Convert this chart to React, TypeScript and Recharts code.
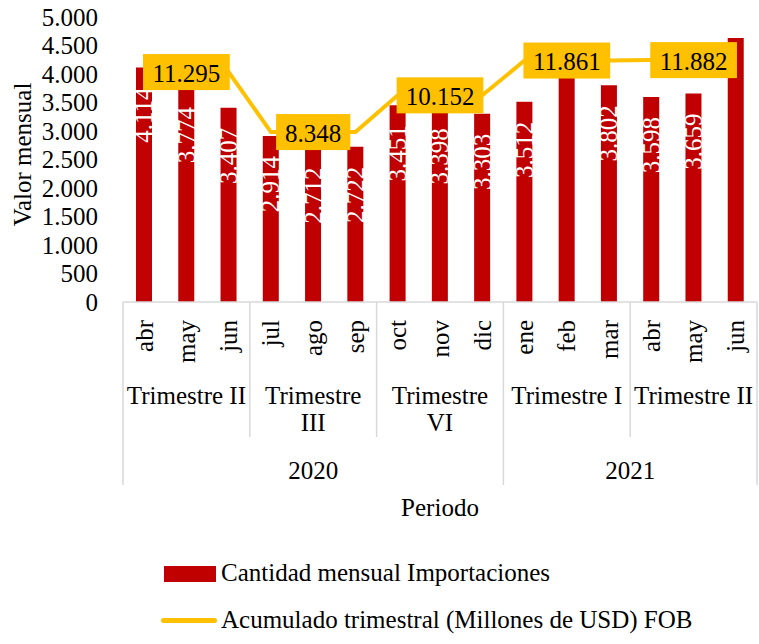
import React from 'react';
import { ComposedChart, Bar, Line, XAxis, YAxis, LabelList, Legend } from 'recharts';

const months = ['abr', 'may', 'jun', 'jul', 'ago', 'sep', 'oct', 'nov', 'dic', 'ene', 'feb', 'mar', 'abr', 'may', 'jun'];
const monthlyImports = [4114, 3774, 3407, 2914, 2712, 2722, 3451, 3398, 3303, 3512, 4250, 3802, 3598, 3659, 4630];
const showBarLabel = [true, true, true, true, true, true, true, true, true, true, false, true, true, true, false];
const quarterLabels = [['Trimestre II'], ['Trimestre', 'III'], ['Trimestre', 'VI'], ['Trimestre I'], ['Trimestre II']];
const quarterTotals = [11295, 8348, 10152, 11861, 11882];
const years = ['2020', '2021'];
const yTicks = [0, 500, 1000, 1500, 2000, 2500, 3000, 3500, 4000, 4500, 5000];

const W = 759;
const H = 644;
const FONT = '"Liberation Serif", serif';
const FS = 25;
const RED = '#C00000';
const GOLD = '#FFC000';
const GRID = '#D9D9D9';
const M = { top: 17, right: 2, left: 0, bottom: 0 };
const Y_W = 123;
const PLOT_W = W - M.left - M.right - Y_W;
const BAND = PLOT_W / months.length;

const fmt = (v: number) => String(v).replace(/\B(?=(\d{3})+(?!\d))/g, '.');

const data = months.map((m, i) => ({
  month: m,
  imports: monthlyImports[i],
  quarter: quarterTotals[Math.floor(i / 3)],
}));

const T = (p: any) => (
  <text textAnchor="middle" dominantBaseline="central" fontFamily={FONT} fontSize={FS} fill="#000" {...p} />
);

const MonthTick = (props: any) => {
  const { x, payload } = props;
  const i = payload.index;
  const axisY = props.y - 8;
  const els: any[] = [];
  const my = axisY + 18;
  els.push(
    <T key="m" x={x} y={my} transform={`rotate(-90 ${x} ${my})`} textAnchor="end">
      {payload.value}
    </T>
  );
  if (i % 3 === 0) {
    const lx = x - BAND / 2;
    const yearEdge = i === 0 || i === 9;
    els.push(<line key="s" x1={lx} x2={lx} y1={axisY} y2={axisY + (yearEdge ? 183 : 135)} stroke={GRID} strokeWidth={1.5} />);
  }
  if (i === months.length - 1) {
    const rx = x + BAND / 2;
    els.push(<line key="e" x1={rx} x2={rx} y1={axisY} y2={axisY + 183} stroke={GRID} strokeWidth={1.5} />);
  }
  if (i % 3 === 1) {
    const q = quarterLabels[Math.floor(i / 3)];
    q.forEach((t, k) => {
      els.push(
        <T key={'q' + k} x={x} y={axisY + 93 + k * 27}>
          {t}
        </T>
      );
    });
  }
  if (i === 4) {
    els.push(<T key="y0" x={x} y={axisY + 168}>{years[0]}</T>);
  }
  if (i === 11) {
    els.push(<T key="y1" x={x + BAND / 2} y={axisY + 168}>{years[1]}</T>);
  }
  if (i === 7) {
    els.push(<T key="p" x={x} y={axisY + 205}>Periodo</T>);
  }
  return <g>{els}</g>;
};

const BarValueLabel = (props: any) => {
  const { x, y, width, value, index } = props;
  if (!showBarLabel[index]) return null;
  const cx = x + width / 2;
  const ty = y + 20;
  return (
    <T x={cx} y={ty} transform={`rotate(-90 ${cx} ${ty})`} textAnchor="end" fill="#FFFFFF">
      {fmt(value)}
    </T>
  );
};

const QuarterBox = (props: any) => {
  const { x, y, value, index } = props;
  if (index % 3 !== 1) return null;
  const txt = fmt(value);
  const tw = txt.split('').reduce((s: number, c: string) => s + (c === '.' ? FS * 0.25 : FS * 0.5), 0);
  const bw = tw + 18;
  const bh = 36;
  return (
    <g>
      <rect x={x - bw / 2} y={y - bh / 2} width={bw} height={bh} fill={GOLD} />
      <T x={x} y={y + 1}>{txt}</T>
    </g>
  );
};

const LegendContent = () => (
  <div style={{ position: 'relative', width: W, height: 100, fontFamily: FONT, fontSize: FS, color: '#000' }}>
    <div style={{ position: 'absolute', left: 164, top: 14, width: 52, height: 16, background: RED }} />
    <div style={{ position: 'absolute', left: 221, top: 7, lineHeight: '28px', whiteSpace: 'nowrap' }}>Cantidad mensual Importaciones</div>
    <div style={{ position: 'absolute', left: 161, top: 66, width: 56, height: 5, borderRadius: 3, background: GOLD }} />
    <div style={{ position: 'absolute', left: 221, top: 54, lineHeight: '28px', whiteSpace: 'nowrap' }}>Acumulado trimestral (Millones de USD) FOB</div>
  </div>
);

export default function App() {
  return (
    <div style={{ position: 'absolute', left: 0, top: 0, width: W, height: H, background: '#fff' }}>
      <ComposedChart width={W} height={H} data={data} margin={M}>
        <XAxis
          dataKey="month"
          xAxisId="x"
          interval={0}
          height={H - 302}
          tick={<MonthTick />}
          tickLine={false}
          axisLine={{ stroke: GRID, strokeWidth: 1.5 }}
        />
        <YAxis
          yAxisId="left"
          domain={[0, 5000]}
          ticks={yTicks}
          interval={0}
          width={Y_W}
          axisLine={false}
          tickLine={false}
          tickMargin={19}
          tickFormatter={fmt}
          tick={{ fontFamily: FONT, fontSize: FS, fill: '#000' }}
          label={{
            content: (p: any) => {
              const vb = p.viewBox;
              const cx = 22;
              const cy = vb.y + vb.height / 2 - 5;
              return (
                <T x={cx} y={cy} transform={`rotate(-90 ${cx} ${cy})`}>
                  Valor mensual
                </T>
              );
            },
          }}
        />
        <YAxis yAxisId="right" orientation="right" domain={[0, 14000]} hide />
        <Legend
          layout="horizontal"
          verticalAlign="middle"
          align="center"
          content={<LegendContent />}
          wrapperStyle={{ position: 'absolute', left: 0, top: 552, width: W, height: 100 }}
        />
        <Bar xAxisId="x" yAxisId="left" dataKey="imports" name="Cantidad mensual Importaciones" fill={RED} barSize={16} isAnimationActive={false}>
          <LabelList dataKey="imports" content={<BarValueLabel />} />
        </Bar>
        <Line
          xAxisId="x"
          yAxisId="right"
          dataKey="quarter"
          name="Acumulado trimestral (Millones de USD) FOB"
          stroke={GOLD}
          strokeWidth={4}
          dot={false}
          activeDot={false}
          isAnimationActive={false}
        >
          <LabelList dataKey="quarter" content={<QuarterBox />} />
        </Line>
      </ComposedChart>
    </div>
  );
}
